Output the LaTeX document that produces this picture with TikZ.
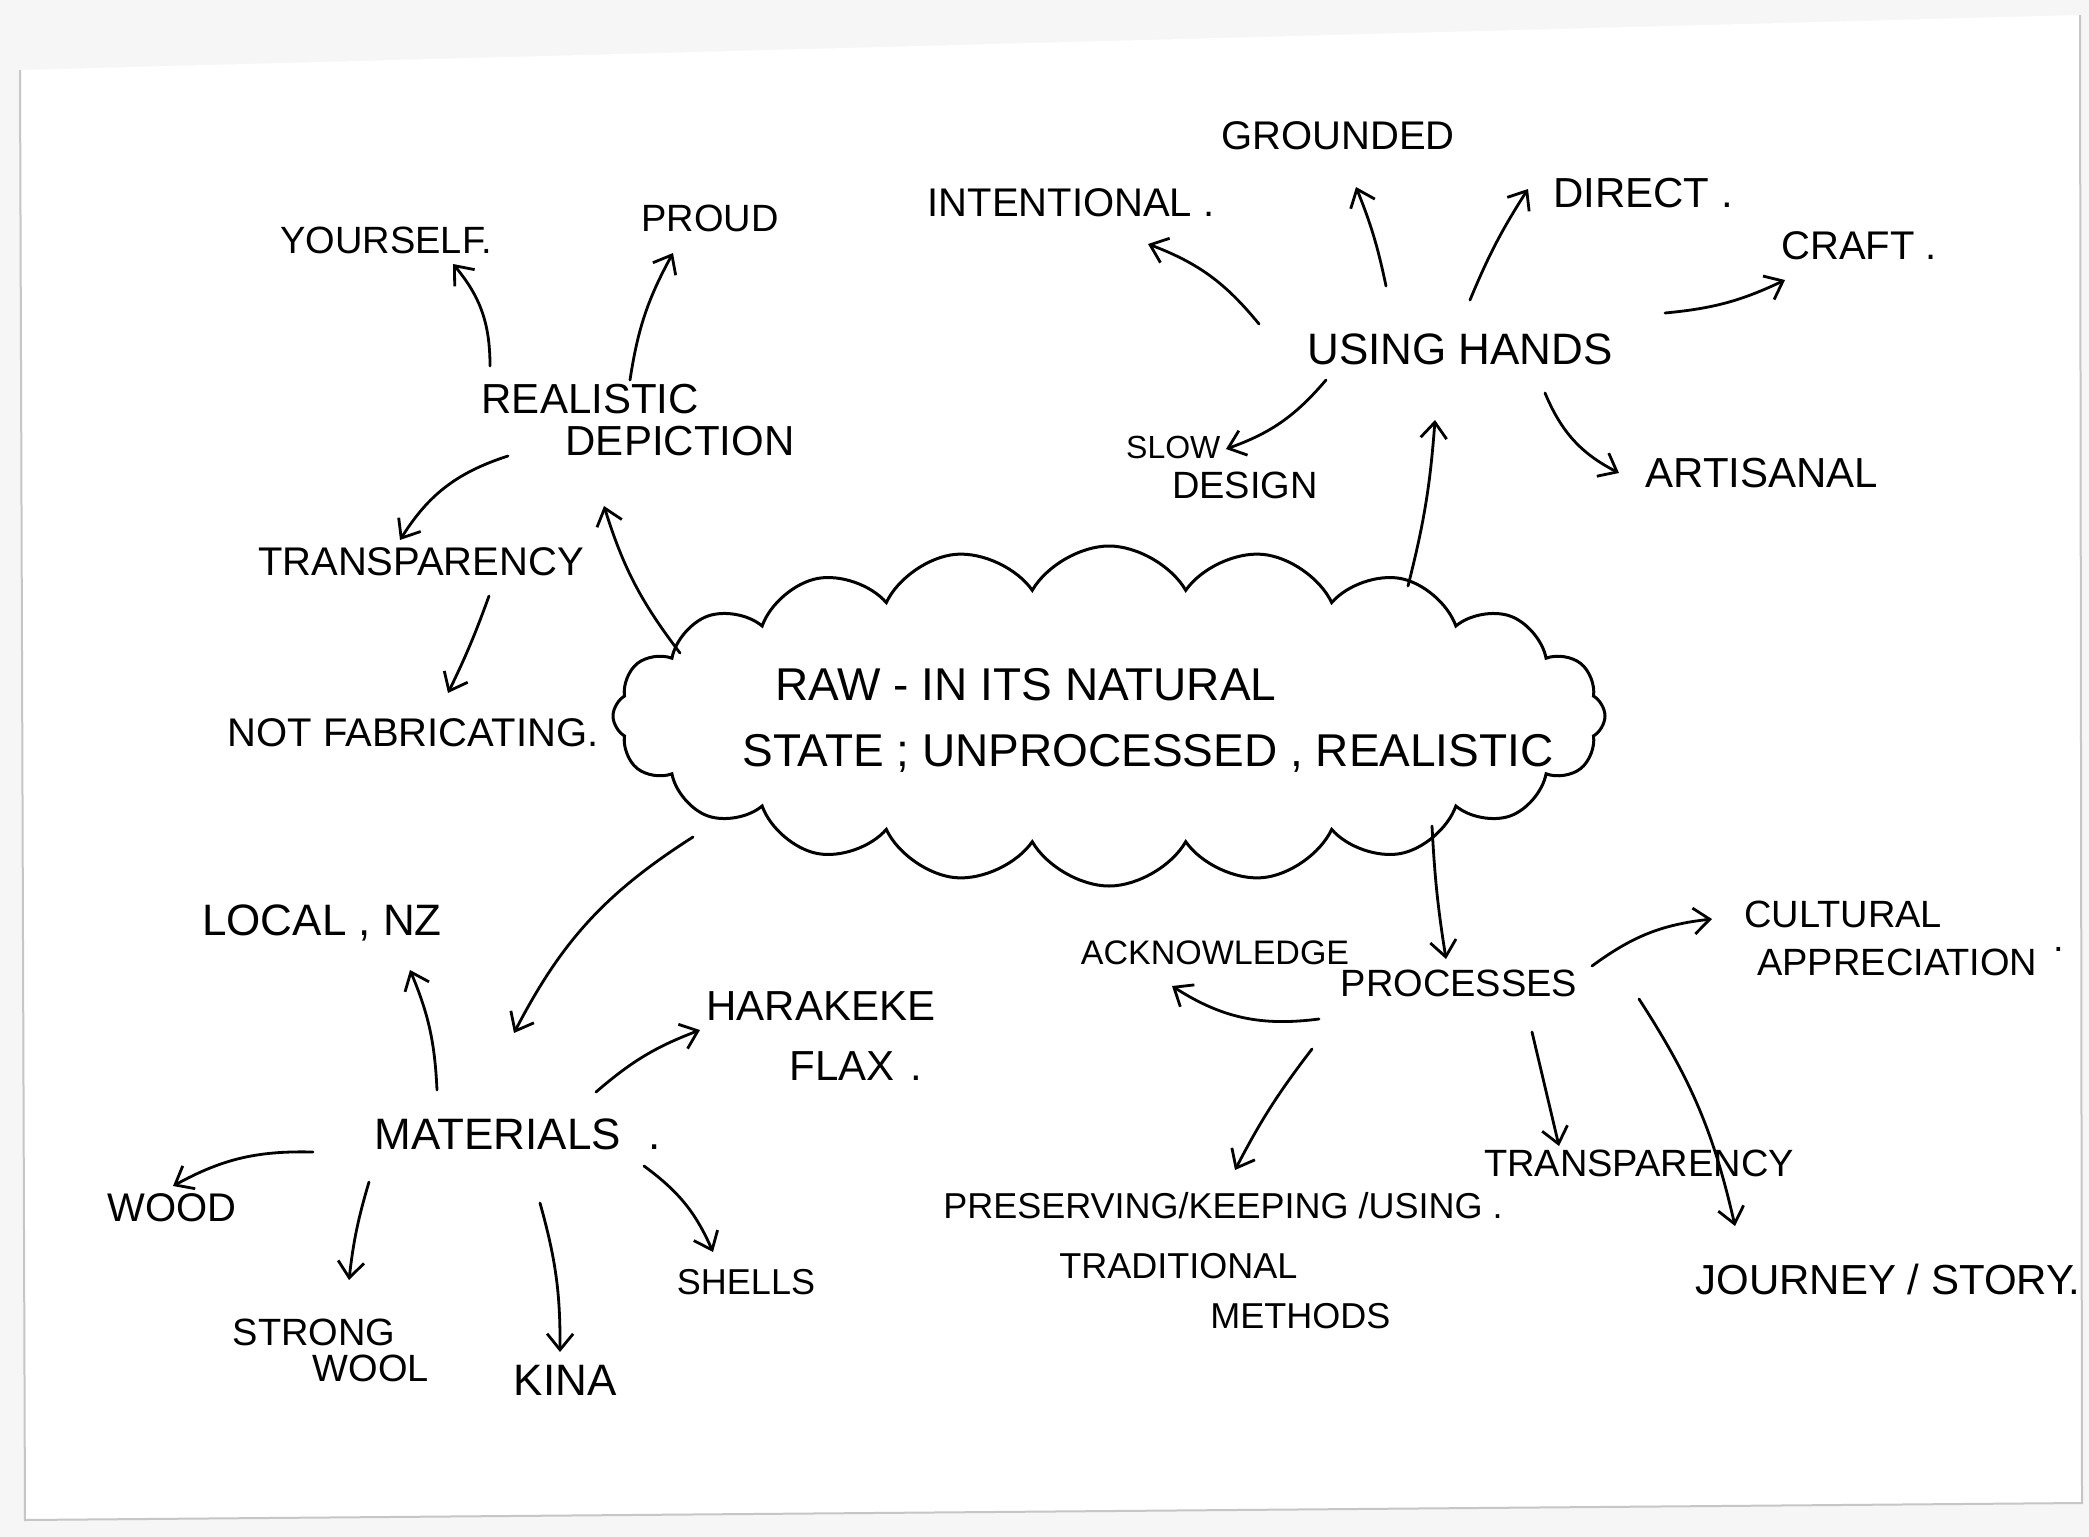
\documentclass[tikz,border=0pt]{standalone}
\usepackage{fontspec}
\setmainfont{Liberation Sans}
\usetikzlibrary{shapes.symbols,arrows.meta}
\begin{document}
\begin{tikzpicture}[x=0.5pt,y=0.5pt,
  fs/.style={font=\fontsize{#1pt}{#1pt}\selectfont, inner sep=1pt},
  ml/.style={align=left},
  arr/.style={-{Straight Barb[length=8pt,width=13pt]}, line width=1.4pt, line cap=round},
  cloudbox/.style={shape=cloud, draw, line width=1.5pt, cloud puffs=20, cloud puff arc=120,
     cloud ignores aspect, minimum width=496pt, minimum height=170pt, inner sep=0pt}]
\useasboundingbox (0,0) rectangle (2089,-1537);
\fill[gray!7] (0,0) rectangle (2089,-1537);
\fill[white] (20,-70) -- (2080,-15) -- (2082,-1503) -- (25,-1520) -- cycle;
\draw[gray!45, line width=1pt] (2080,-15) -- (2082,-1503) -- (25,-1520) -- (20,-70);

% nodes
\node[fs=19] (your) at (386,-240) {YOURSELF.};
\node[fs=19] (proud) at (710,-218) {PROUD};
\node[fs=21, ml] (real) at (638,-420) {REALISTIC\\[0pt]\hspace*{42pt}DEPICTION};
\node[fs=20] (trl) at (421,-562) {TRANSPARENCY};
\node[fs=20] (notfab) at (413,-733) {NOT FABRICATING.};
\node[cloudbox, label={[fs=23, ml, xshift=19.5pt, yshift=-2pt]center:{\hspace*{16.5pt}RAW - IN ITS NATURAL\\[10pt]STATE ; UNPROCESSED , REALISTIC}}] (cloud) at (1109,-716) {};
\node[fs=20] (inten) at (1071,-203) {INTENTIONAL .};
\node[fs=20] (ground) at (1338,-136) {GROUNDED};
\node[fs=21] (direct) at (1643,-193) {DIRECT .};
\node[fs=20] (craft) at (1859,-246) {CRAFT .};
\node[fs=22] (hands) at (1460,-349) {USING\hspace{6pt}HANDS};
\node[fs=19, ml] (slow) at (1222,-468) {{\fontsize{16pt}{16pt}\selectfont SLOW}\\[1pt]\hspace*{23pt}DESIGN};
\node[fs=21] (artis) at (1762,-473) {ARTISANAL};
\node[fs=22] (local) at (322,-923) {LOCAL , NZ};
\node[fs=22] (mat) at (518,-1134) {MATERIALS\hspace{14pt}.};
\node[fs=21, ml] (hara) at (821,-1036) {HARAKEKE\\[9pt]\hspace*{41.5pt}FLAX\hspace{8pt}.};
\node[fs=20] (wood) at (172,-1208) {WOOD};
\node[fs=19, ml] (strong) at (331,-1350) {STRONG\\[-1pt]\hspace*{40pt}WOOL};
\node[fs=22] (kina) at (565,-1380) {KINA};
\node[fs=18] (shells) at (746,-1282) {SHELLS};
\node[fs=17] (ack) at (1215,-953) {ACKNOWLEDGE};
\node[fs=19] (proc) at (1459,-983) {PROCESSES};
\node[fs=19, ml] (cult) at (1904,-938) {CULTURAL\\[5pt]\hspace*{6.5pt}APPRECIATION\hspace{8pt}\raisebox{12pt}{.}};
\node[fs=18, ml] (pres) at (1223,-1261) {PRESERVING/KEEPING /USING .\\[12pt]\hspace*{58pt}TRADITIONAL\\[7pt]\hspace*{133.5pt}METHODS};
\node[fs=19] (trr) at (1639,-1163) {TRANSPARENCY};
\node[fs=21] (journey) at (1888,-1279) {JOURNEY / STORY.};

% connectors
\draw[arr] ([shift={(-148,54)}]real.center) to[bend right=20] ([shift={(67,-24)}]your.center);
\draw[arr] ([shift={(-8,40)}]real.center) to[bend left=10] ([shift={(-37,-35)}]proud.center);
\draw[arr] ([shift={(-130,-36)}]real.center) to[bend right=20] ([shift={(-21,22)}]trl.center);
\draw[arr] ([shift={(68,-34)}]trl.center) to[bend left=3] ([shift={(35,40)}]notfab.center);
\draw[arr] ([shift={(-429,63)}]cloud.center) to[bend left=10] ([shift={(-34,-86)}]real.center);
\draw[arr] ([shift={(299,130)}]cloud.center) to[bend right=5] ([shift={(-25,-71)}]hands.center);
\draw[arr] ([shift={(-416,-121)}]cloud.center) to[bend right=15] ([shift={(-4,101)}]mat.center);
\draw[arr] ([shift={(323,-110)}]cloud.center) to[bend right=3] ([shift={(-13,24)}]proc.center);

\draw[arr] ([shift={(-201,25)}]hands.center) to[bend right=15] ([shift={(77,-41)}]inten.center);
\draw[arr] ([shift={(-74,63)}]hands.center) to[bend right=5] ([shift={(18,-51)}]ground.center);
\draw[arr] ([shift={(10,49)}]hands.center) to[bend left=5] ([shift={(-115,4)}]direct.center);
\draw[arr] ([shift={(205,36)}]hands.center) to[bend right=10] ([shift={(-74,-34)}]craft.center);
\draw[arr] ([shift={(-134,-31)}]hands.center) to[bend left=15] ([shift={(4,19)}]slow.center);
\draw[arr] ([shift={(85,-44)}]hands.center) to[bend right=20] ([shift={(-143,0)}]artis.center);

\draw[arr] ([shift={(-81,44)}]mat.center) to[bend right=10] ([shift={(88,-47)}]local.center);
\draw[arr] ([shift={(78,42)}]mat.center) to[bend left=10] ([shift={(-121,6)}]hara.center);
\draw[arr] ([shift={(-205,-18)}]mat.center) to[bend right=15] ([shift={(1,22)}]wood.center);
\draw[arr] ([shift={(-149,-48)}]mat.center) to[bend right=5] ([shift={(18,70)}]strong.center);
\draw[arr] ([shift={(22,-69)}]mat.center) to[bend left=8] ([shift={(-5,28)}]kina.center);
\draw[arr] ([shift={(126,-32)}]mat.center) to[bend left=15] ([shift={(-33,30)}]shells.center);

\draw[arr] ([shift={(-140,-36)}]proc.center) to[bend left=20] ([shift={(-43,-33)}]ack.center);
\draw[arr] ([shift={(133,17)}]proc.center) to[bend left=15] ([shift={(-192,19)}]cult.center);
\draw[arr] ([shift={(-147,-66)}]proc.center) to[bend right=5] ([shift={(12,91)}]pres.center);
\draw[arr] ([shift={(73,-49)}]proc.center) to ([shift={(-80,17)}]trr.center);
\draw[arr] ([shift={(180,-16)}]proc.center) to[bend left=10] ([shift={(-153,53)}]journey.center);
\end{tikzpicture}
\end{document}
